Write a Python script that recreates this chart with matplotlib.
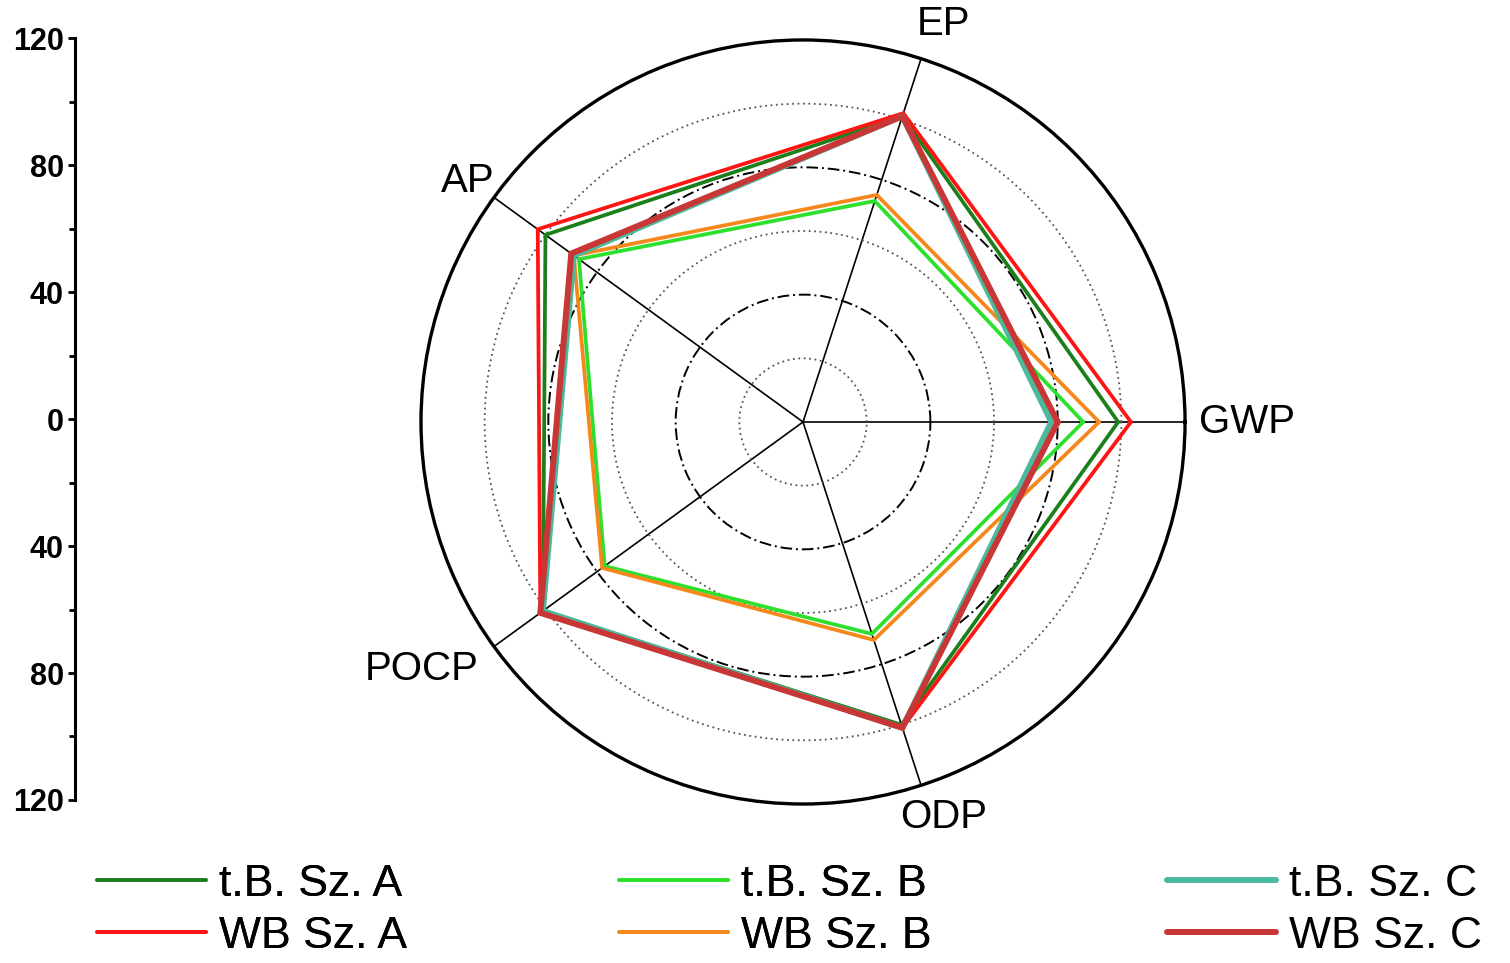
import numpy as np
import matplotlib.pyplot as plt
from matplotlib.ticker import FuncFormatter, MultipleLocator

plt.rcParams['font.family'] = ['Liberation Sans', 'DejaVu Sans']

categories = ['GWP', 'EP', 'AP', 'POCP', 'ODP']
angles_deg = [0, 72, 144, 216, 288]

# values (order: GWP, EP, AP, POCP, ODP)
tb_a = [99, 101, 100, 101, 100]
wb_a = [103, 102, 103, 102, 101]
tb_b = [88, 73, 87, 77, 70]
wb_b = [93, 75, 89, 78, 72]
tb_c = [78, 101, 89, 101, 101]
wb_c = [80, 101, 90, 102, 101]

series = [
    ('t.B. Sz. A', tb_a, '#1b7f1b', 2.7),
    ('WB Sz. A', wb_a, '#ff1414', 2.7),
    ('t.B. Sz. B', tb_b, '#2ee02e', 2.7),
    ('WB Sz. B', wb_b, '#f5881c', 2.7),
    ('t.B. Sz. C', tb_c, '#4cb89c', 4.3),
    ('WB Sz. C', wb_c, '#c93636', 4.3),
]

fig = plt.figure(figsize=(15.1, 9.63), dpi=100)
ax = fig.add_axes([0.2788, 0.1651, 0.506, 0.7934], projection='polar')

theta = np.deg2rad(angles_deg + [angles_deg[0]])
handles = []
for name, vals, col, lw in series:
    h, = ax.plot(theta, vals + [vals[0]], color=col, lw=lw, label=name,
                 solid_joinstyle='miter', solid_capstyle='round')
    handles.append(h)

ax.set_ylim(0, 120)
ax.set_rgrids([20, 40, 60, 80, 100], labels=[''] * 5)
ax.set_thetagrids(angles_deg, labels=[''] * 5)
for i, gl in enumerate(ax.yaxis.get_gridlines()):
    if i % 2 == 0:
        gl.set_linestyle((0, (1, 2)))
        gl.set_color('#555555')
        gl.set_linewidth(1.3)
    else:
        gl.set_linestyle((0, (6, 2, 1, 2)))
        gl.set_color('black')
        gl.set_linewidth(1.4)
for gl in ax.xaxis.get_gridlines():
    gl.set_linestyle('-')
    gl.set_color('black')
    gl.set_linewidth(1.2)
ax.spines['polar'].set_linewidth(2.4)
ax.tick_params(axis='x', direction='in', length=9, width=2, pad=0)

offsets = {'GWP': (10, 0, 'left', 'center'),
           'EP': (16, 25, 'center', 'center'),
           'AP': (-19, 12, 'center', 'center'),
           'POCP': (-52, -16, 'center', 'center'),
           'ODP': (16, -23, 'center', 'center')}
for cat, a in zip(categories, angles_deg):
    dx, dy, ha, va = offsets[cat]
    ax.annotate(cat, xy=(np.deg2rad(a), 120), xytext=(dx, dy),
                textcoords='offset points', ha=ha, va=va, fontsize=29,
                annotation_clip=False)

# scale bar on the left
sax = fig.add_axes([0.0497, 0.1693, 0.001, 0.791])
sax.set_ylim(-120, 120)
for s in ['top', 'right', 'bottom']:
    sax.spines[s].set_visible(False)
sax.spines['left'].set_linewidth(2.2)
sax.set_xticks([])
sax.yaxis.set_major_locator(MultipleLocator(40))
sax.yaxis.set_minor_locator(MultipleLocator(20))
sax.yaxis.set_major_formatter(FuncFormatter(lambda v, p: f'{abs(v):.0f}'))
sax.tick_params(axis='y', which='major', length=5, width=2, pad=3,
                labelsize=22)
sax.tick_params(axis='y', which='minor', length=4, width=2)
for lab in sax.get_yticklabels():
    lab.set_fontweight('bold')

legend_pos = [0.064, 0.41, 0.773]
for k, xpos in enumerate(legend_pos):
    leg = fig.legend(handles[2 * k:2 * k + 2],
                     [series[2 * k][0], series[2 * k + 1][0]],
                     loc='upper left', bbox_to_anchor=(xpos, 0.103),
                     frameon=False, fontsize=32, handlelength=2.45,
                     handletextpad=0.3, labelspacing=0.25,
                     borderpad=0, borderaxespad=0)
    if k < 2:
        fig.add_artist(leg)

fig.savefig('out.png', dpi=100)
